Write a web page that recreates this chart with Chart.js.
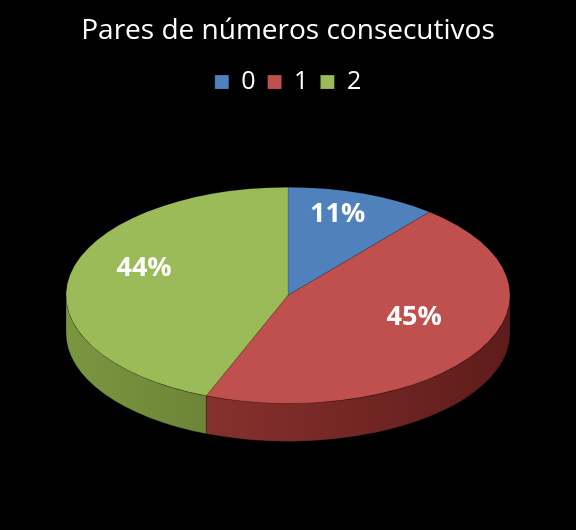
<!DOCTYPE html>
<html><head><meta charset="utf-8">
<script src="https://cdn.jsdelivr.net/npm/chart.js@4/dist/chart.umd.min.js"></script>
<style>html,body{margin:0;background:#000}#w{width:576px;height:530px}</style>
</head><body><div id="w"><canvas id="c"></canvas></div>
<script>
const categories = ['0','1','2'];
const values = [11, 45, 44];
const labelsPct = ['11%','45%','44%'];
const topColors = ['#4F81BD','#C0504D','#9BBB59'];
const sideColors = [['#2c4d75','#3a6293'],['#5e1c1a','#9a3a37'],['#4b5e25','#7b9640']];
const K = 0.487, DEPTH = 38;
const pie3d = {
  id:'pie3d',
  beforeDatasetsDraw(chart){
    const ctx = chart.ctx, meta = chart.getDatasetMeta(0);
    meta.data.forEach((a,i)=>{
      const cx=a.x, cy=a.y, rx=a.outerRadius, ry=rx*K;
      const s=Math.max(a.startAngle,0), e=Math.min(a.endAngle,Math.PI);
      if(e<=s) return;
      const g=ctx.createLinearGradient(cx-rx,0,cx+rx,0);
      g.addColorStop(0,sideColors[i][1]);g.addColorStop(1,sideColors[i][0]);
      ctx.save();ctx.beginPath();
      ctx.ellipse(cx,cy,rx,ry,0,s,e);
      ctx.ellipse(cx,cy+DEPTH,rx,ry,0,e,s,true);
      ctx.closePath();ctx.fillStyle=g;ctx.fill();
      ctx.strokeStyle='rgba(0,0,0,0.25)';ctx.lineWidth=1;ctx.stroke();ctx.restore();
    });
    const a0=meta.data[0];
    ctx.save();ctx.translate(a0.x,a0.y);ctx.scale(1,K);ctx.translate(-a0.x,-a0.y);
  },
  afterDatasetsDraw(chart){
    const ctx=chart.ctx; ctx.restore();
    const meta=chart.getDatasetMeta(0);
    ctx.save();ctx.fillStyle='#fff';ctx.font='bold 27px "Open Sans", sans-serif';
    ctx.textAlign='center';ctx.textBaseline='middle';
    meta.data.forEach((a,i)=>{
      const m=(a.startAngle+a.endAngle)/2, r=a.outerRadius*0.66;
      ctx.fillText(labelsPct[i], a.x+r*Math.cos(m), a.y+r*K*Math.sin(m)-14);
    });
    ctx.restore();
  }
};
new Chart(document.getElementById('c'),{
  type:'pie',
  data:{labels:categories,datasets:[{data:values,backgroundColor:topColors,borderWidth:1,borderColor:'rgba(0,0,0,0.2)'}]},
  options:{responsive:true,maintainAspectRatio:false,animation:false,radius:222,
    events:[],
    layout:{padding:{top:0,bottom:44}},
    plugins:{
      tooltip:{enabled:false},
      title:{display:true,text:'Pares de números consecutivos',color:'#fff',font:{size:28,family:'"Open Sans", sans-serif',weight:'normal'},padding:{top:14,bottom:10}},
      legend:{labels:{color:'#fff',boxWidth:14,boxHeight:14,font:{size:25,family:'"Open Sans", sans-serif'},padding:12}}
    }},
  plugins:[pie3d]
});
</script></body></html>
